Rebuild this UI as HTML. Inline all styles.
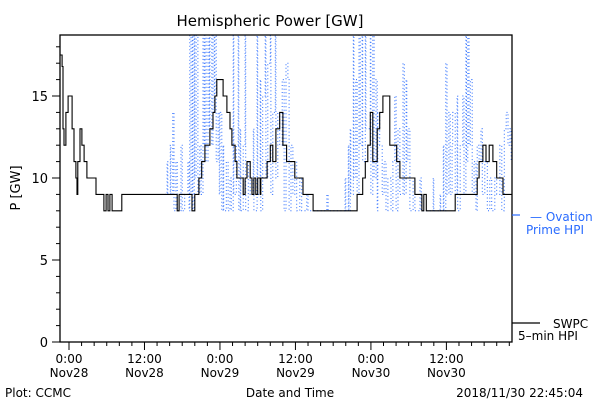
<!DOCTYPE html>
<html><head><meta charset="utf-8"><style>
body{margin:0;background:#fff;}
svg{display:block;font-family:"DejaVu Sans","Liberation Sans",sans-serif;}
</style></head><body>
<svg id="chart" width="600" height="400" viewBox="0 0 600 400">
<defs><clipPath id="clip"><rect x="60" y="35" width="452" height="307"/></clipPath></defs>
<text x="270" y="26" font-size="15" text-anchor="middle">Hemispheric Power [GW]</text>
<text transform="translate(20,188) rotate(-90)" font-size="13" text-anchor="middle">P [GW]</text>
<g id="yaxis"></g>
<g id="xaxis"></g>
<g id="series" clip-path="url(#clip)"></g>
<rect x="60" y="35" width="452" height="307" fill="none" stroke="#000" stroke-width="1.3"/>
<g>
<line x1="512" y1="215" x2="520" y2="215" stroke="#2a6cff" stroke-width="1.2"/>
<text x="530" y="221" font-size="12" fill="#2a6cff">— Ovation</text>
<text x="526" y="234" font-size="12" fill="#2a6cff">Prime HPI</text>
</g>
<g>
<line x1="512" y1="323" x2="540" y2="323" stroke="#000" stroke-width="1.2"/>
<text x="553" y="328" font-size="12">SWPC</text>
<text x="518" y="340" font-size="12">5–min HPI</text>
</g>
<text x="290" y="397" font-size="12" text-anchor="middle">Date and Time</text>
<text x="5" y="397" font-size="12">Plot: CCMC</text>
<text x="583" y="397" font-size="12" text-anchor="end">2018/11/30 22:45:04</text>
</svg>
<script>
const xTickHours=[0,12,24,36,48,60];
const xTickTimes=["0:00","12:00","0:00","12:00","0:00","12:00"];
const xTickDates=["Nov28","Nov28","Nov29","Nov29","Nov30","Nov30"];
const yTicks=[0,5,10,15];
const swpcTimes=[-1.43,-1.1,-0.95,-0.8,-0.5,-0.15,0.15,0.5,0.8,1.1,1.27,1.4,1.75,2.05,2.4,2.85,4.3,5.55,5.9,6.2,6.5,6.85,8.4,17.2,17.5,19.55,20.0,20.65,21.1,21.6,22.4,22.9,23.2,23.5,24.5,25.1,25.6,25.9,26.4,26.7,27.7,28.0,28.3,28.8,29.1,29.4,29.7,30.0,30.4,30.5,31.5,32.0,32.4,32.9,33.5,34.0,34.6,35.9,36.2,37.2,38.8,45.8,46.7,47.1,47.5,47.9,48.3,49.0,49.4,49.9,51.0,52.1,52.6,55.0,56.1,56.4,56.8,61.4,64.9,65.2,65.8,66.3,66.8,67.4,68.0,69.0,70.8];
const swpcValues=[17.5,16.8,13,12,14,15,15,13,11,10,9,11,13,12,11,10,9,8,9,8,9,8,9,8,9,8,9,10,11,12,13,14,15,16,15,14,13,12,11,10,9,10,11,10,9,10,9,10,9,10,11,12,11,13,14,12,11,10,10,9,8,9,10,11,12,14,11,13,14,15,12,11,10,9,8,9,8,9,10,11,12,11,12,11,10,9,9];
const ovTimes=[15.3,15.6,15.7,16.1,16.2,16.5,16.7,17.0,17.2,17.8,18.0,18.4,18.9,19.1,19.2,19.4,19.6,19.7,19.9,20.0,20.2,20.5,20.8,21.0,21.3,21.5,21.6,21.8,22.1,22.3,22.4,22.7,22.9,23.1,23.2,23.4,23.7,23.9,24.0,24.3,24.5,24.6,25.0,25.3,25.6,25.8,26.1,26.2,26.6,26.9,27.0,27.2,27.3,27.7,28.0,28.1,28.5,28.8,29.3,29.4,29.9,30.0,30.4,30.5,30.8,31.2,31.3,31.6,32.0,32.1,32.4,32.8,32.9,33.2,33.5,33.9,34.2,34.5,34.8,35.0,35.3,35.6,35.9,36.2,36.7,37.0,37.8,38.0,41.0,41.2,43.6,43.9,44.0,44.4,44.5,44.7,44.8,45.2,45.3,45.6,45.8,46.1,46.3,46.6,46.7,47.1,47.2,47.5,47.9,48.0,48.3,48.5,48.8,49.0,49.1,49.4,49.8,50.1,50.4,50.7,51.2,51.5,51.8,52.0,52.3,52.6,53.1,53.3,53.6,53.7,53.9,54.2,54.7,55.0,55.8,56.0,57.4,57.9,58.0,59.0,59.1,59.5,59.6,59.9,60.1,60.4,60.6,60.9,61.0,61.4,61.7,61.8,62.2,62.6,62.8,63.1,63.2,63.4,63.6,63.8,64.1,64.4,64.7,64.9,65.2,65.5,65.7,66.1,66.5,66.9,67.2,67.7,68.0,68.5,68.8,69.2,69.5,69.8,70.1,70.3];
const ovValues=[9,11,9,12,9,14,8,11,8,12,8,9,11,8,19,9,19,8,19,10,19,9,12,9,19,12,19,11,19,13,19,12,19,14,19,11,14,9,14,8,12,8,11,8,10,8,19,9,12,19,8,13,8,12,19,8,11,9,13,8,19,9,16,8,15,19,10,17,19,9,14,19,10,14,12,16,8,17,16,8,12,9,11,8,10,8,9,8,9,8,8,10,8,12,8,13,9,19,10,16,9,19,12,19,11,19,13,13,19,9,19,10,16,8,14,12,9,11,8,10,8,11,15,8,13,9,17,9,16,11,13,8,10,8,10,8,8,10,8,9,8,12,8,17,9,14,9,12,14,9,15,8,12,15,9,19,11,19,12,16,9,11,8,12,11,13,9,11,8,10,8,10,9,12,8,13,14,12,13,11];
const X0=69,PXH=6.29,Y0=342,PXV=16.4;
function xs(t){return X0+t*PXH;}
function ys(v){return Y0-v*PXV;}
const NS="http://www.w3.org/2000/svg";
function mk(tag,attrs,parent){const e=document.createElementNS(NS,tag);for(const k in attrs)e.setAttribute(k,attrs[k]);parent.appendChild(e);return e;}
const ya=document.getElementById('yaxis');
for(let v=0;v<=18;v++){
  const major=yTicks.includes(v);
  const t=mk('line',{x1:60-(major?8:4),x2:60,y1:ys(v),y2:ys(v),stroke:'#000','stroke-width':1},ya);
  
  
}
yTicks.forEach(v=>{
  const l=mk('text',{x:48,y:ys(v)+5,'font-size':13,'text-anchor':'end'},ya);
  l.textContent=v;
  
  
});
const xa=document.getElementById('xaxis');
for(let h=0;h<=70;h+=2){
  const major=xTickHours.includes(h);
  const t=mk('line',{x1:xs(h),x2:xs(h),y1:342,y2:342+(major?8:4),stroke:'#000','stroke-width':1},xa);
  
  
}
xTickHours.forEach((h,i)=>{
  const a=mk('text',{x:xs(h),y:363,'font-size':12,'text-anchor':'middle'},xa);
  a.textContent=xTickTimes[i];
  
  
  const b=mk('text',{x:xs(h),y:377,'font-size':12,'text-anchor':'middle'},xa);
  b.textContent=xTickDates[i];
  
  
});
const sg=document.getElementById('series');
let d='';
ovTimes.forEach((t,i)=>{
  const x=xs(t).toFixed(1),y=ys(ovValues[i]).toFixed(1);
  if(i===0)d='M'+x+','+y;else d+='H'+x+'V'+y;
});
const ov=mk('path',{d:d,fill:'none',stroke:'#2a6cff','stroke-width':1,'stroke-dasharray':'1 2.5'},sg);


let d2='';
swpcTimes.forEach((t,i)=>{
  const x=xs(t).toFixed(1),y=ys(swpcValues[i]).toFixed(1);
  if(i===0)d2='M'+x+','+y;else d2+='H'+x+'V'+y;
});
d2+='H512';
const sw=mk('path',{d:d2,fill:'none',stroke:'#000','stroke-width':1.1},sg);


</script>
</body></html>
